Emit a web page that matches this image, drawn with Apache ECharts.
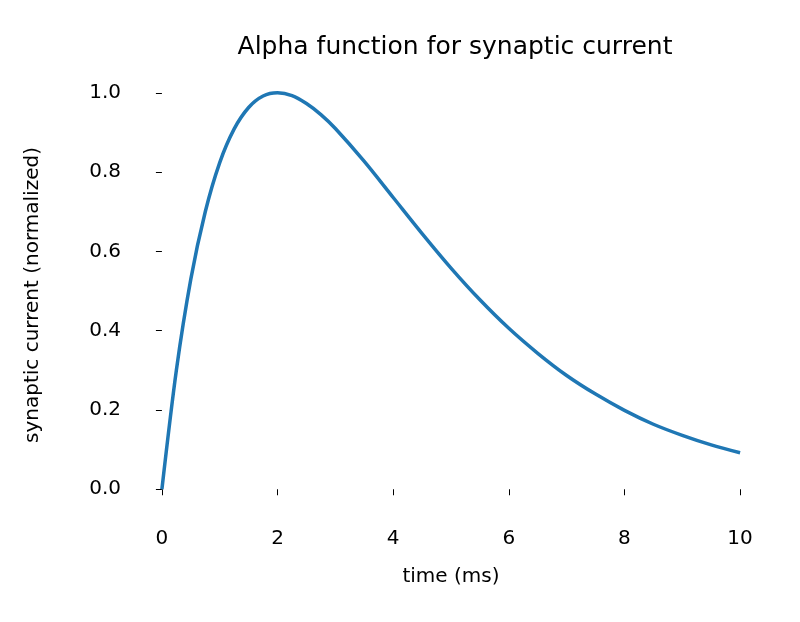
<!DOCTYPE html>
<html>
<head>
<meta charset="utf-8">
<script src="https://cdn.jsdelivr.net/npm/echarts@6/dist/echarts.min.js"></script>
<style>html,body{margin:0;background:#fff}#chart{width:800px;height:622px}</style>
</head>
<body>
<div id="chart"></div>
<script>
// 読み取った値（時間 ms と正規化電流）
const times = [0, 0.25, 0.5, 0.75, 1, 1.25, 1.5, 1.75, 2, 2.25, 2.5, 2.75, 3, 3.5, 4, 4.5, 5, 5.5, 6, 6.5, 7, 7.5, 8, 8.5, 9, 9.5, 10];
const current = [0, 0.30, 0.53, 0.70, 0.824, 0.909, 0.963, 0.992, 1.0, 0.993, 0.973, 0.945, 0.910, 0.827, 0.736, 0.645, 0.558, 0.478, 0.406, 0.343, 0.287, 0.240, 0.199, 0.164, 0.136, 0.112, 0.092];
const xTicks = [0, 2, 4, 6, 8, 10];
const yTicks = [0, 0.2, 0.4, 0.6, 0.8, 1.0];

const chart = echarts.init(document.getElementById('chart'));
const font = 'DejaVu Sans';
chart.setOption({
  animation: false,
  title: {
    text: 'Alpha function for synaptic current',
    left: 450, top: 30, textAlign: 'center',
    textStyle: { fontFamily: font, fontSize: 25, fontWeight: 'normal', color: '#000' }
  },
  grid: { left: 133, right: 31, top: 73, bottom: 105 },
  xAxis: {
    type: 'value', min: -0.5, max: 10.5,
    name: 'time (ms)', nameLocation: 'middle', nameGap: 50,
    nameTextStyle: { fontFamily: font, fontSize: 20, color: '#000' },
    axisLine: { show: false },
    axisTick: { show: true, length: 6, customValues: xTicks, lineStyle: { color: '#000' } },
    axisLabel: { fontFamily: font, fontSize: 20, color: '#000', margin: 12, customValues: xTicks },
    splitLine: { show: false }
  },
  yAxis: {
    type: 'value', min: -0.07, max: 1.05,
    name: 'synaptic current (normalized)', nameLocation: 'middle', nameGap: 90,
    nameTextStyle: { fontFamily: font, fontSize: 20, color: '#000' },
    axisLine: { show: false },
    axisTick: { show: true, length: 6, customValues: yTicks, lineStyle: { color: '#000' } },
    axisLabel: { fontFamily: font, fontSize: 20, color: '#000', margin: 12, customValues: yTicks, formatter: v => v.toFixed(1) },
    splitLine: { show: false }
  },
  series: [{
    type: 'line', smooth: 0.3, showSymbol: false,
    data: times.map((t, i) => [t, current[i]]),
    lineStyle: { color: '#1f77b4', width: 3.5 }
  }]
});
</script>
</body>
</html>
